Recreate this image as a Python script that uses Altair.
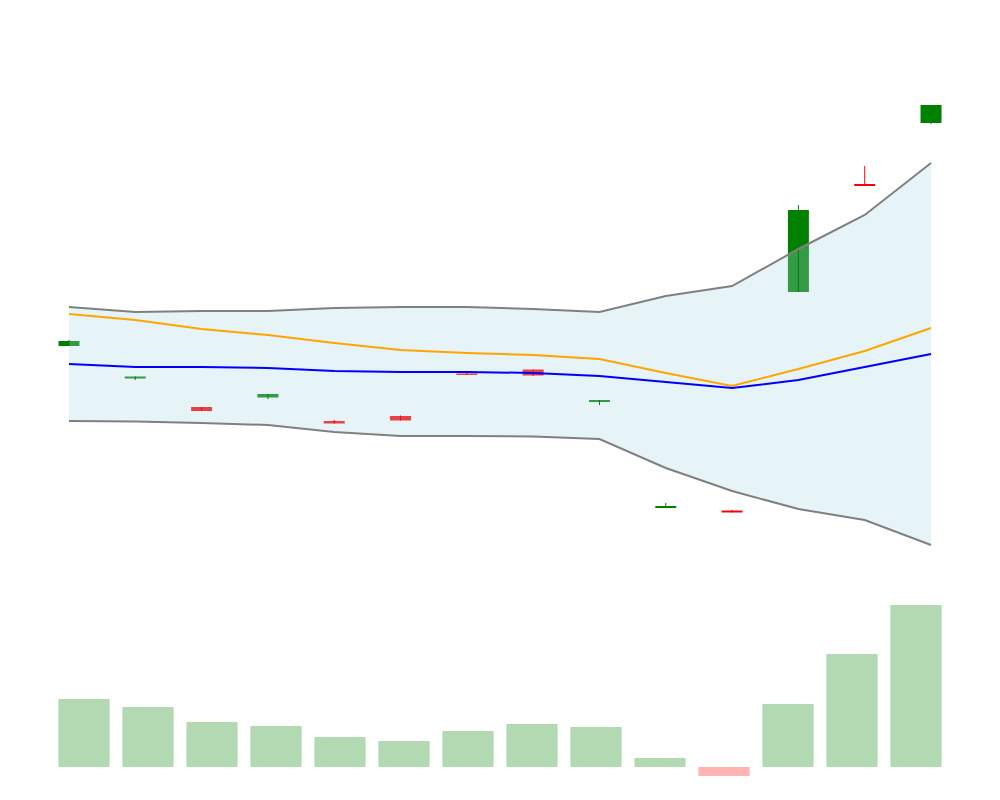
import altair as alt
import pandas as pd

days = ["D01", "D02", "D03", "D04", "D05", "D06", "D07",
        "D08", "D09", "D10", "D11", "D12", "D13", "D14"]

open_ = [25.4, 22.15, 19.3, 20.25, 17.9, 18.4, 22.65, 23.05, 19.8, 9.2, 8.95, 30.8, 41.6, 47.7]
close = [25.9, 22.35, 18.9, 20.6, 17.65, 17.95, 22.5, 22.45, 20.0, 9.4, 8.75, 39.0, 41.4, 49.5]
high = [26.0, 22.35, 19.3, 20.6, 18.0, 18.45, 22.8, 23.05, 20.0, 9.7, 9.0, 39.5, 43.4, 49.5]
low = [25.4, 22.0, 18.9, 20.1, 17.65, 17.95, 22.5, 22.4, 19.5, 9.2, 8.75, 30.8, 41.4, 47.6]

upper = [29.3, 28.8, 28.9, 28.9, 29.2, 29.3, 29.3, 29.1, 28.8, 30.4, 31.4, 35.1, 38.5, 43.7]
lower = [17.9, 17.85, 17.7, 17.5, 16.8, 16.4, 16.4, 16.35, 16.1, 13.2, 10.9, 9.1, 8.0, 5.5]
orange_line = [28.6, 28.0, 27.1, 26.5, 25.7, 25.0, 24.7, 24.5, 24.1, 22.7, 21.4, 23.1, 24.9, 27.2]
blue_line = [23.6, 23.3, 23.3, 23.2, 22.9, 22.8, 22.8, 22.7, 22.4, 21.8, 21.2, 22.0, 23.3, 24.6]

hist = [0.68, 0.60, 0.45, 0.41, 0.30, 0.26, 0.36, 0.43, 0.40, 0.09, -0.09, 0.63, 1.13, 1.62]

df = pd.DataFrame({
    "day": days, "open": open_, "close": close, "high": high, "low": low,
    "upper": upper, "lower": lower, "ma1": orange_line, "ma2": blue_line,
    "hist": hist,
})

W = 896
xs_top = alt.X("day:O", sort=days, axis=None,
               scale=alt.Scale(type="point", padding=0.256))
ysc = alt.Scale(domain=[2, 58], nice=False, zero=False)

base = alt.Chart(df).encode(x=xs_top)

updown = alt.condition("datum.close >= datum.open", alt.value("#008000"), alt.value("#ff0000"))

bodies = base.mark_bar(size=21).encode(
    y=alt.Y("open:Q", scale=ysc, axis=None),
    y2="close:Q",
    color=updown,
)

area = base.mark_area(color="lightblue", opacity=0.3).encode(
    y=alt.Y("lower:Q", scale=ysc, axis=None),
    y2="upper:Q",
)

wicks = base.mark_rule(strokeWidth=1).encode(
    y=alt.Y("low:Q", scale=ysc, axis=None),
    y2="high:Q",
    color=updown,
)

up_line = base.mark_line(color="gray", strokeWidth=2).encode(y=alt.Y("upper:Q", scale=ysc, axis=None))
lo_line = base.mark_line(color="gray", strokeWidth=2).encode(y=alt.Y("lower:Q", scale=ysc, axis=None))
o_line = base.mark_line(color="orange", strokeWidth=2).encode(y=alt.Y("ma1:Q", scale=ysc, axis=None))
b_line = base.mark_line(color="blue", strokeWidth=2).encode(y=alt.Y("ma2:Q", scale=ysc, axis=None))

top = alt.layer(bodies, area, wicks, up_line, lo_line, o_line, b_line).properties(width=W, height=560)

bottom = alt.Chart(df).mark_bar().encode(
    x=alt.X("day:O", sort=days, axis=None,
            scale=alt.Scale(type="band", paddingInner=0.2, paddingOuter=0.1)),
    y=alt.Y("hist:Q", axis=None, scale=alt.Scale(domain=[-0.13, 1.67], nice=False)),
    color=alt.condition("datum.hist >= 0", alt.value("#b3d9b3"), alt.value("#ffb3b3")),
).properties(width=W, height=180)

chart = alt.vconcat(top, bottom, spacing=20).properties(
    padding={"left": 44, "top": 12, "right": 5, "bottom": 5}
).configure_view(stroke=None)

chart.save("out.html", embed_options={"renderer": "svg", "actions": False})
